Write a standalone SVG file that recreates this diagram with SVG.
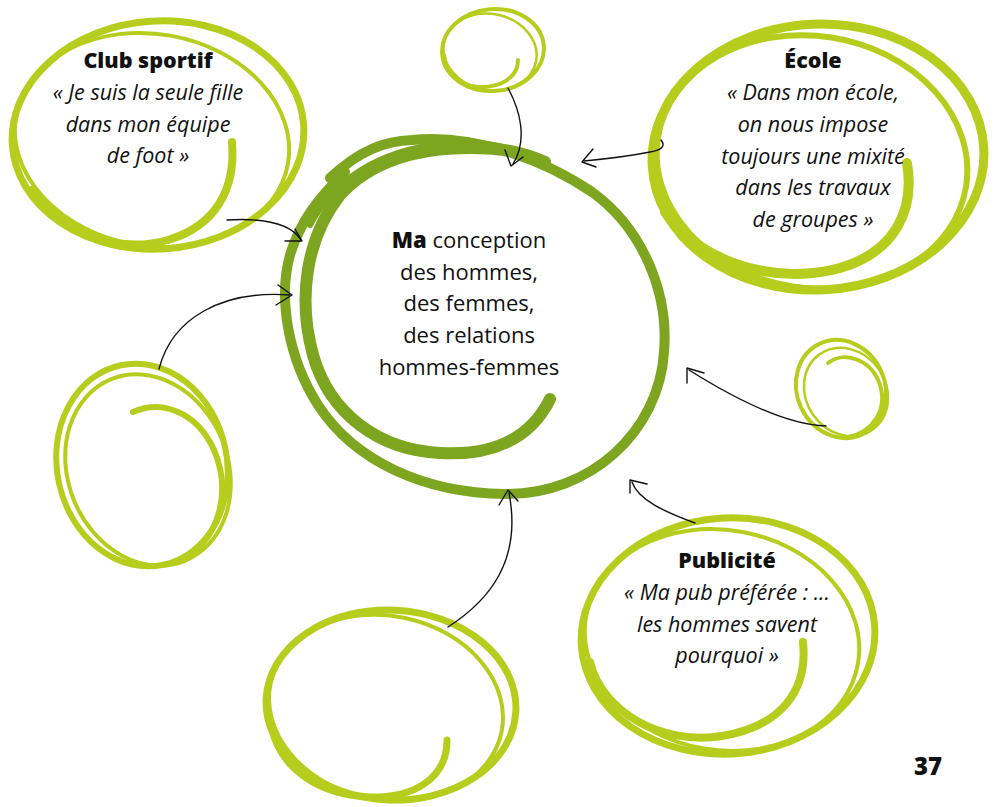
<svg xmlns="http://www.w3.org/2000/svg" width="997" height="807" viewBox="0 0 997 807">
<style>
.lg{fill:none;stroke:#B7CD1D;stroke-linecap:round;stroke-linejoin:round}
.dg{fill:none;stroke:#7EA520;stroke-linecap:round;stroke-linejoin:round}
.cn{fill:none;stroke:#111;stroke-width:1.4;stroke-linecap:round;stroke-linejoin:round}
.t{font-family:"Open Sans","Noto Sans","DejaVu Sans",sans-serif;fill:#111;text-anchor:middle}
.q{font-size:21.5px;font-style:italic}
.h{font-size:21.5px;font-weight:800}
.c{font-size:22px}
</style>
<rect width="997" height="807" fill="#fff"/>

<g id="center">
<path class="dg" stroke-width="10" d="M330,178 C360,150 385,141 412,140 C472,134 542,158 592,192 C642,228 669,292 664,352 C659,432 590,495 505,494 C425,493 355,462 318,405 C288,358 278,298 290,255 C300,222 318,198 345,172"/>
<path class="dg" stroke-width="12" d="M550,399 C530,440 490,456 440,453 C380,450 330,415 313,355 C298,300 305,240 340,195 C372,160 420,148 470,148 C505,148 525,153 545,162"/>
<path class="dg" stroke-width="6" d="M310,225 C338,172 392,146 455,143 C490,142 510,147 528,155"/>
<text class="t c" x="469" y="248"><tspan font-weight="800">Ma</tspan> conception</text>
<text class="t c" x="469" y="280">des hommes,</text>
<text class="t c" x="469" y="311">des femmes,</text>
<text class="t c" x="469" y="343">des relations</text>
<text class="t c" x="469" y="375">hommes-femmes</text>
</g>

<g id="club">
<ellipse class="lg" stroke-width="7" cx="158" cy="135" rx="146" ry="114" transform="rotate(-4 158 135)"/>
<ellipse class="lg" stroke-width="4" cx="152" cy="140" rx="138" ry="106" transform="rotate(10 152 140)"/>
<path class="lg" stroke-width="8" d="M232,142 C236,190 215,226 168,240 C118,254 62,234 32,190"/>
<text class="t h" x="148" y="68">Club sportif</text>
<text class="t q" x="148" y="100">« Je suis la seule fille</text>
<text class="t q" x="148" y="132">dans mon équipe</text>
<text class="t q" x="148" y="163">de foot »</text>
</g>

<g id="ecole">
<ellipse class="lg" stroke-width="9" cx="818" cy="157" rx="166" ry="133" transform="rotate(-3 818 157)"/>
<ellipse class="lg" stroke-width="6" cx="812" cy="162" rx="156" ry="126" transform="rotate(9 812 162)"/>
<path class="lg" stroke-width="10" d="M907,163 C915,210 895,252 840,268 C780,285 700,265 665,212"/>
<text class="t h" x="813" y="68">École</text>
<text class="t q" x="813" y="100">« Dans mon école,</text>
<text class="t q" x="813" y="132">on nous impose</text>
<text class="t q" x="813" y="164">toujours une mixité</text>
<text class="t q" x="813" y="195">dans les travaux</text>
<text class="t q" x="813" y="227">de groupes »</text>
</g>

<g id="publicite">
<ellipse class="lg" stroke-width="7" cx="728" cy="636" rx="147" ry="118" transform="rotate(-4 728 636)"/>
<ellipse class="lg" stroke-width="4" cx="722" cy="640" rx="138" ry="110" transform="rotate(10 722 640)"/>
<path class="lg" stroke-width="8" d="M803,642 C808,690 782,726 722,736 C662,746 602,712 590,662"/>
<text class="t h" x="727" y="568">Publicité</text>
<text class="t q" x="727" y="600">« Ma pub préférée : ...</text>
<text class="t q" x="727" y="632">les hommes savent</text>
<text class="t q" x="727" y="663">pourquoi »</text>
</g>

<g id="blank-top">
<ellipse class="lg" stroke-width="4" cx="493" cy="50" rx="51" ry="41" transform="rotate(-5 493 50)"/>
<ellipse class="lg" stroke-width="2.5" cx="490" cy="52" rx="47" ry="38" transform="rotate(12 490 52)"/>
<path class="lg" stroke-width="4" d="M518,60 C518,78 500,88 478,87 C458,86 446,72 444,55"/>
</g>

<g id="blank-right">
<ellipse class="lg" stroke-width="4" cx="841" cy="389" rx="44" ry="50" transform="rotate(-25 841 389)"/>
<ellipse class="lg" stroke-width="2.5" cx="846" cy="392" rx="40" ry="46" transform="rotate(-35 846 392)"/>
<path class="lg" stroke-width="4" d="M828,363 C845,350 872,360 880,385 C888,410 872,433 848,437"/>
</g>

<g id="blank-left">
<ellipse class="lg" stroke-width="6" cx="142" cy="465" rx="85" ry="102" transform="rotate(-12 142 465)"/>
<ellipse class="lg" stroke-width="4" cx="148" cy="470" rx="80" ry="98" transform="rotate(-22 148 470)"/>
<path class="lg" stroke-width="6" d="M133,412 C160,400 196,410 214,450 C231,490 222,540 178,562"/>
</g>

<g id="blank-bottom">
<ellipse class="lg" stroke-width="7" cx="391" cy="705" rx="125" ry="95" transform="rotate(3 391 705)"/>
<ellipse class="lg" stroke-width="4" cx="386" cy="708" rx="118" ry="92" transform="rotate(12 386 708)"/>
<path class="lg" stroke-width="7" d="M447,740 C447,780 412,798 370,797 C320,795 282,770 272,730"/>
</g>

<g id="connectors">
<path class="cn" d="M508,88 C520,110 528,140 513,164"/>
<polyline class="cn" points="505,150 511,166 523,157"/>
<path class="cn" d="M661,140 C666,146 662,150 650,152 C630,156 605,159 584,161"/>
<polyline class="cn" points="593,149 582,162 596,167"/>
<path class="cn" d="M227,220 C262,218 290,222 301,240"/>
<polyline class="cn" points="295,229 302,241 285,241"/>
<path class="cn" d="M159,369 C172,318 222,290 290,295"/>
<polyline class="cn" points="278,285 292,295 276,305"/>
<path class="cn" d="M826,426 C790,425 740,402 689,370"/>
<polyline class="cn" points="704,373 687,368 687,383"/>
<path class="cn" d="M695,523 C665,512 638,500 632,482"/>
<polyline class="cn" points="647,484 630,480 630,493"/>
<path class="cn" d="M448,627 C490,600 522,560 509,493"/>
<polyline class="cn" points="499,505 508,490 518,501"/>
</g>

<text id="page" class="t" x="928" y="775" font-size="24" font-weight="800">37</text>
</svg>
